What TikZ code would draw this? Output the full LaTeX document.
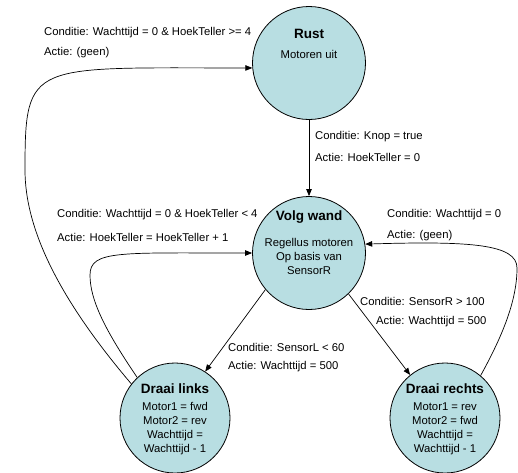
\documentclass[tikz,border=0pt]{standalone}
\usepackage{fontspec}
\setmainfont{Liberation Sans}
\usetikzlibrary{%
    arrows.meta,
    positioning
}
\definecolor{statefill}{RGB}{184,222,226}
\newcommand{\titlefont}{\fontsize{13.5}{14}\selectfont\bfseries}

\begin{document}
\begin{tikzpicture}[x=1pt, y=-1pt,
        state/.style={circle, draw, fill=statefill, line width=.8pt,
                      minimum size=113pt, inner sep=0pt},
        statetext/.style={align=center, inner sep=0pt,
                          font=\fontsize{11.3}{14}\selectfont},
        cond/.style={anchor=west, inner sep=0pt,
                     font=\fontsize{11.3}{13}\selectfont},
        trans/.style={-{Triangle[length=7pt,width=5.5pt]}, line width=.7pt},
    ]
    \useasboundingbox (0,0) rectangle (518,472);

    \node[state] (rust) at (309,63)  {};
    \node[state] (volg) at (309,253) {};
    \node[state, minimum size=110pt] (links)  at (175,418) {};
    \node[state, minimum size=110pt] (rechts) at (445,418) {};

    \node[statetext, yshift=19pt] (rust-text) at (rust.center)
        {{\titlefont Rust}\\[6pt] Motoren uit};
    \node[statetext, yshift=10pt] (volg-text) at (volg.center)
        {{\titlefont Volg wand}\\[12pt] Regellus motoren\\ Op basis van\\ SensorR};
    \node[statetext, yshift=-1pt] (links-text) at (links.center)
        {{\titlefont Draai links}\\[3pt] Motor1 = fwd\\ Motor2 = rev\\ Wachttijd =\\ Wachttijd - 1};
    \node[statetext, yshift=-1pt] (rechts-text) at (rechts.center)
        {{\titlefont Draai rechts}\\[3pt] Motor1 = rev\\ Motor2 = fwd\\ Wachttijd =\\ Wachttijd - 1};

    %
    \foreach \Name/\X/\Y/\Text in {%
        rust-cond/44/33/{Conditie: Wachttijd = 0 \& HoekTeller >= 4},
        rust-actie/44/53/{Actie: (geen)},
        start-cond/315/137/{Conditie: Knop = true},
        start-actie/315/157/{Actie: HoekTeller = 0},
        hoek-cond/57/215/{Conditie: Wachttijd = 0 \& HoekTeller < 4},
        hoek-actie/57/237/{Actie: HoekTeller = HoekTeller + 1},
        terug-cond/387/215/{Conditie: Wachttijd = 0},
        terug-actie/387/236/{Actie: (geen)},
        rechts-cond/360/301/{Conditie: SensorR > 100},
        rechts-actie/376/322/{Actie: Wachttijd = 500},
        links-cond/228/347/{Conditie: SensorL < 60},
        links-actie/228/367/{Actie: Wachttijd = 500}%
        }
        \node[cond] (\Name) at (\X,\Y) {\Text};

    %
    \draw[trans] (rust) -- (volg);
    \draw[trans] (volg.220) -- (links.57);
    \draw[trans] (volg.314) -- (rechts.129);
    \draw[trans] (links.142) .. controls (60,300) and (25,230) .. (25,170)
                             .. controls (25,60) and (30,68) .. (rust.185);
    \draw[trans] (links.133) .. controls (105,330) and (90,300) .. (90,275)
                             .. controls (90,250) and (120,253) .. (volg.west);
    \draw[trans] (rechts.50) .. controls (503,335) and (517,300) .. (517,268)
                             .. controls (517,244) and (470,241) .. (volg.9);
\end{tikzpicture}
\end{document}
